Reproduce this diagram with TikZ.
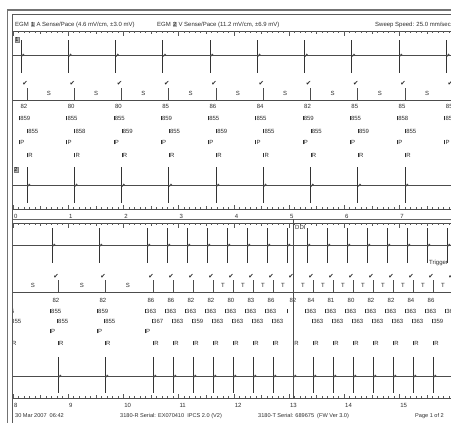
\documentclass[tikz,border=0pt]{standalone}
\usepackage{fontspec}
\setmainfont{Liberation Sans}
\newfontfamily\symfont{DejaVu Sans}
\newcommand\bt[1]{\vrule width 0.45pt height 4.6pt depth 0.3pt\kern0.6pt #1}
\newcommand\hdbox[1]{{\setlength\fboxsep{0.5pt}\colorbox{black!30}{#1}}}
\newcommand\myruler[2]{%
  \draw[ln] (12,#1) -- (451,#1);
  \foreach \i in {0,...,79}{%
    \pgfmathsetmacro\xx{13+5.52*\i}%
    \pgfmathsetmacro\tkl{ifthenelse(mod(\i,10)==0,4.5,ifthenelse(mod(\i,5)==0,3,1.6))}%
    \draw[tk] (\xx,#1) -- ++(0,#2*\tkl);
  }}
\newcommand\spike[4]{%
  \draw[spk] (#1,#3) -- (#1,#4);
  \draw[ln] (#1,#2) -- ++(0.9,1.3) -- ++(1.2,-2.3) -- ++(1.1,1);}
\tikzset{
  ln/.style={draw=black!70, line width=0.6pt},
  tk/.style={draw=black!65, line width=0.45pt},
  spk/.style={draw=black!80, line width=0.95pt},
  txt/.style={inner sep=0pt, font=\fontsize{6}{6}\selectfont, text=black!82},
  ftxt/.style={inner sep=0pt, font=\fontsize{5.6}{6}\selectfont, text=black!82},
  chk/.style={inner sep=0pt, font=\symfont\fontsize{6.5}{6.5}\selectfont, text=black!85},
  lbox/.style={fill=black!30, draw=black!50, line width=0.3pt, inner sep=0.6pt, font=\fontsize{5.5}{5.5}\selectfont}
}
\begin{document}
\begin{tikzpicture}[x=1pt,y=-1pt]
\useasboundingbox (0,0) rectangle (451,423);
\fill[white] (0,0) rectangle (451,423);
\begin{scope}
\clip (12.6,14.6) rectangle (451,423);
% header
\node[txt,anchor=west] (h1) at (15,25) {EGM \hdbox{1} A Sense/Pace (4.6 mV/cm, ±3.0 mV)};
\node[txt,anchor=west] (h2) at (157,25) {EGM \hdbox{2} V Sense/Pace (11.2 mV/cm, ±6.9 mV)};
\node[txt,anchor=west] (h3) at (375,25) {Sweep Speed: 25.0 mm/sec};
\myruler{31}{1}
% ---------- strip 1 ----------
\node[lbox] (l1) at (17,40) {1};
\draw[ln] (12,55) -- (451,55);
\foreach \k in {0,...,9}{\pgfmathsetmacro\xa{21+47.25*\k}\spike{\xa}{55}{40}{73}}
\draw[ln] (12,100) -- (451,100);
\foreach \k/\n/\a/\b in {0/82/859/855,1/80/855/858,2/80/855/859,3/85/859/855,4/86/855/859,5/84/855/855,6/82/859/855,7/85/855/859,8/85/858/855,9/85/859/855}{
  \pgfmathsetmacro\xa{21+47.25*\k}
  \pgfmathsetmacro\xv{27+47.25*\k}
  \draw[ln] (\xv,88) -- (\xv,100);
  \node[chk] (ca\k) at (\xv-2,83) {✔};
  \node[txt] (sa\k) at (\xv+22,93) {S};
  \node[txt] (na\k) at (\xv-3,106) {\n};
  \node[txt,anchor=west] (ra\k) at (\xa-2,118) {\bt{\a}};
  \node[txt,anchor=west] (rb\k) at (\xv,131) {\bt{\b}};
  \node[txt,anchor=west] (pa\k) at (\xa-2,142) {\bt{P}};
  \node[txt,anchor=west] (qa\k) at (\xv,155) {\bt{R}};
}
\node[lbox] (l2) at (16,170) {2};
\draw[ln] (12,185) -- (451,185);
\foreach \k in {0,...,9}{\pgfmathsetmacro\xv{27+47.25*\k}\spike{\xv}{185}{167}{203}}
\myruler{209}{-1}
\foreach \s in {0,...,7}{\node[txt,anchor=west] (t\s) at (13.8+55.2*\s,216) {\s};}
\draw[black!60, line width=1pt] (12,219) -- (451,219);
% ---------- strip 2 ----------
\myruler{223}{1}
\draw[ln] (12,245) -- (451,245);
\foreach \xa in {52,99,147,167,187,207,227,247,267,287,307,327,347,367,387,407,427,447}{\spike{\xa}{245}{228}{263}}
\draw[ln] (12,376) -- (451,376);
\foreach \xv in {58,105,153,173,193,213,233,253,273,293,313,333,353,373,393,413,433,453}{\spike{\xv}{376}{357}{393}}
\draw[ln] (12,292) -- (451,292);
\foreach \xv in {11,58,105,153,173,193,213,233,253,273,293,313,333,353,373,393,413,433,453}{
  \draw[ln] (\xv,280) -- (\xv,292);
  \node[chk] (cb\xv) at (\xv-2,276) {✔};
  \node[txt,anchor=west] (qb\xv) at (\xv,343) {\bt{R}};
}
\foreach \xs in {33,82,128}{\node[txt] (sb\xs) at (\xs,285) {S};}
\foreach \xs in {223,243,263,283,303,323,343,363,383,403,423,443}{\node[txt] (tb\xs) at (\xs,285) {T};}
\foreach \xv/\n/\a/\b in {11/82/855/855,58/82/855/855,105/82/859/855,153/86/363/367,173/86/363/363,193/82/363/359,213/82/363/363,233/80/363/363,253/83/363/363,273/86/363/363,313/84/363/363,333/81/363/363,353/80/363/363,373/82/363/363,393/82/363/363,413/84/363/363,433/86/363/359}{
  \node[txt] (nb\xv) at (\xv-2,300) {\n};
  \node[txt,anchor=west] (rc\xv) at (\xv-8,311) {\bt{\a}};
  \node[txt,anchor=west] (rd\xv) at (\xv-1,321) {\bt{\b}};
}
\node[txt] (nb293) at (293,300) {82};
\node[txt,anchor=west] (rc293) at (287,311) {\bt{}};
\node[txt,anchor=west] (rc453) at (445,311) {\bt{363}};
\foreach \xp in {50,97,145}{\node[txt,anchor=west] (pb\xp) at (\xp,331) {\bt{P}};}
\draw[ln] (293,219) -- (293,398);
\node[txt,anchor=west] (ddi) at (295,227) {DDI};
\node[txt,anchor=west] (trig) at (429,263) {Trigger};
\myruler{398}{-1}
\foreach \s in {8,...,15}{\node[txt,anchor=west] (u\s) at (13.8+55.2*\s-441.6,405) {\s};}
% footer
\node[ftxt,anchor=west] (f1) at (15,416) {30 Mar 2007\ \ 06:42};
\node[ftxt,anchor=west] (f2) at (120,416) {3180-R Serial: EX070410\ \ IPCS 2.0 (V2)};
\node[ftxt,anchor=west] (f3) at (258,416) {3180-T Serial: 689675\ \ (FW Ver 3.0)};
\node[ftxt,anchor=west] (f4) at (415,416) {Page 1 of 2};
\end{scope}
% frame
\draw[black!55, line width=1.6pt] (7.5,423) -- (7.5,10) -- (451,10);
\draw[black!65, line width=0.7pt] (12.3,423) -- (12.3,14.3) -- (451,14.3);
\end{tikzpicture}
\end{document}
